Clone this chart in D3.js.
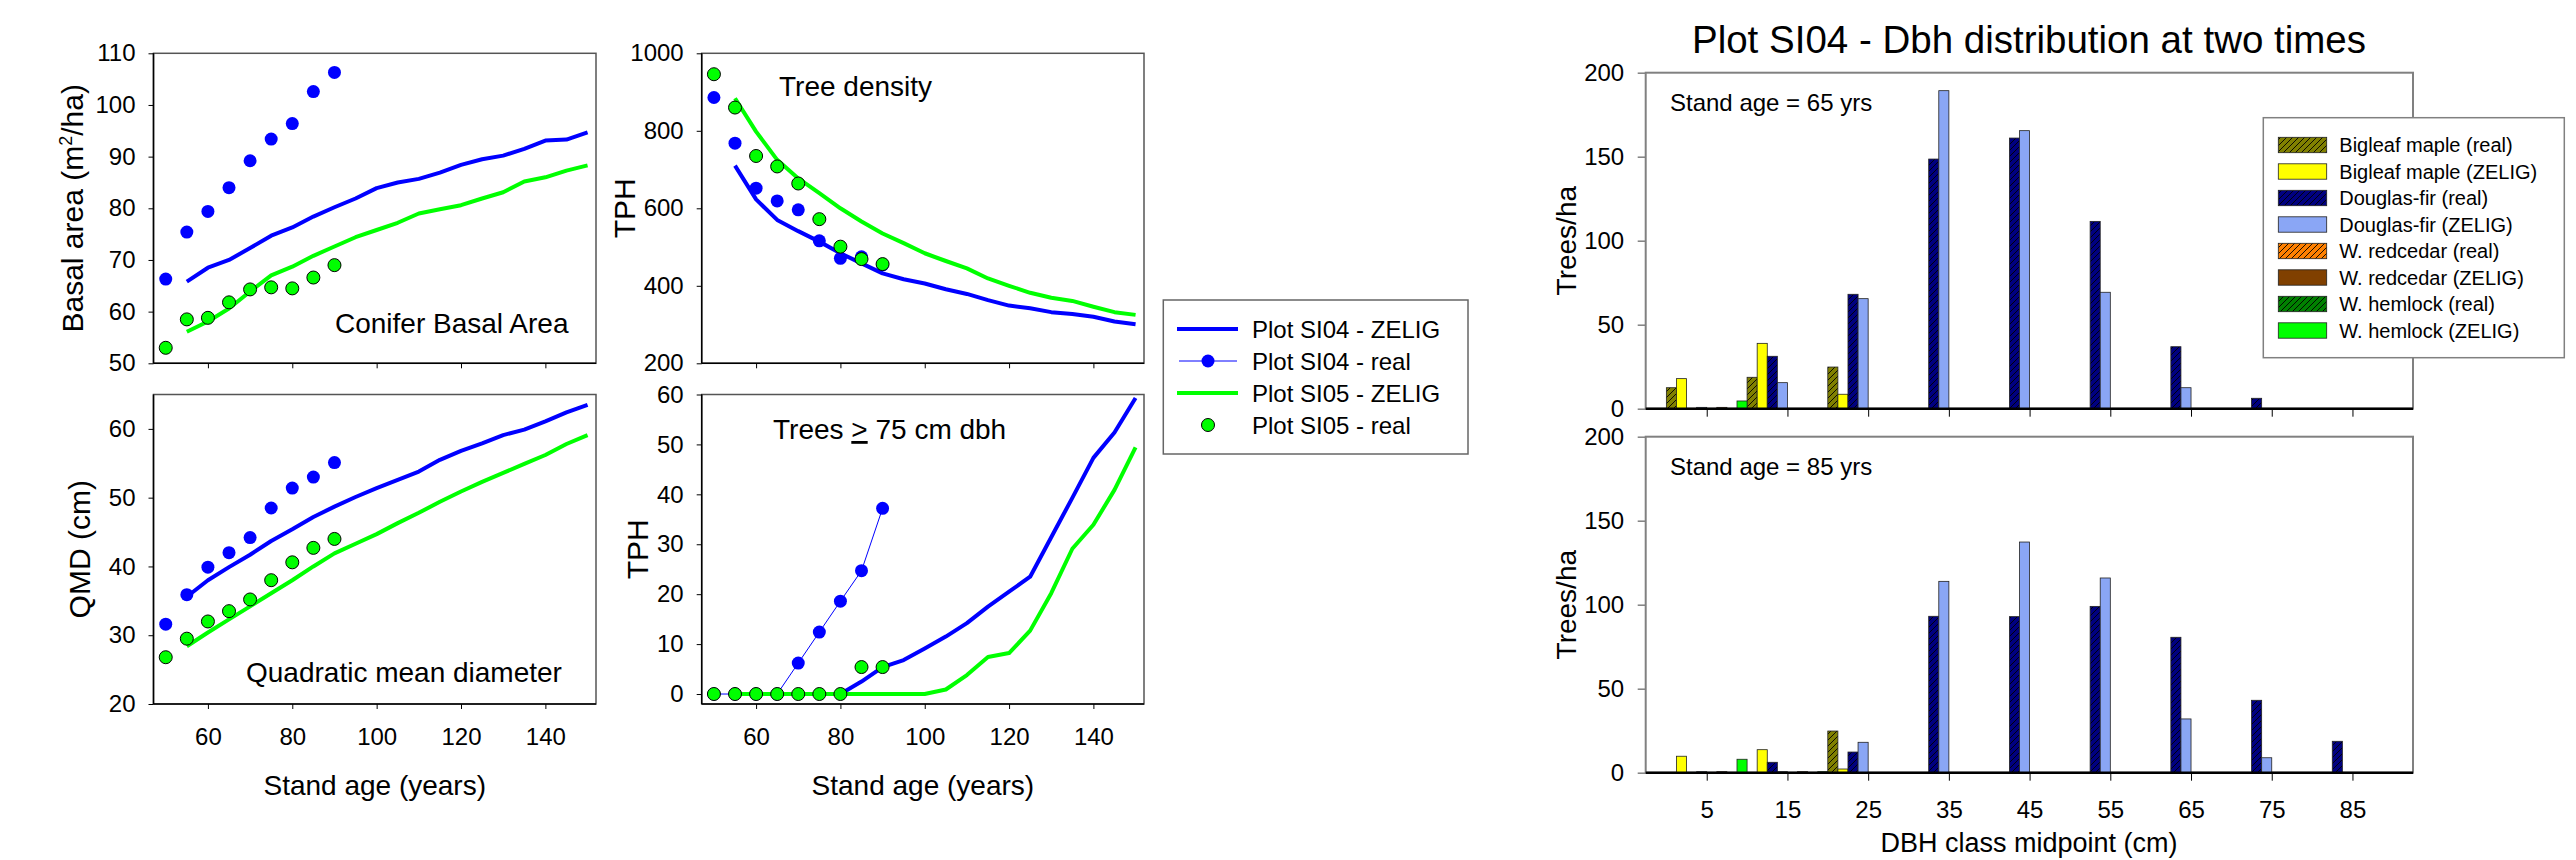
<!DOCTYPE html>
<html><head><meta charset="utf-8">
<script src="https://cdn.jsdelivr.net/npm/d3@7"></script>
<style>
body{margin:0;background:#fff;}
</style></head><body>
<svg id="c" width="2576" height="860" xmlns="http://www.w3.org/2000/svg"></svg>
<script>
// ---------------- DATA ----------------
const agesReal  = [50,55,60,65,70,75,80,85,90];
const agesZelig = [55,60,65,70,75,80,85,90,95,100,105,110,115,120,125,130,135,140,145,150];
const ageTicks  = [60,80,100,120,140];

// Conifer basal area (m2/ha)
const baSI04Zelig = [65.8,68.5,70.0,72.3,74.7,76.3,78.4,80.2,81.9,83.9,85.0,85.7,86.9,88.4,89.5,90.2,91.5,93.1,93.3,94.7];
const baSI04Real  = [66.3,75.4,79.4,84.0,89.2,93.4,96.4,102.6,106.3];
const baSI05Zelig = [56.1,58.1,60.6,63.9,67.0,68.7,70.8,72.6,74.4,75.8,77.2,79.0,79.8,80.6,81.9,83.1,85.2,86.0,87.3,88.3];
const baSI05Real  = [53.0,58.5,58.8,61.8,64.3,64.7,64.5,66.6,69.0];
const baTicks = [50,60,70,80,90,100,110];

// Tree density (TPH)
const tphSI04Zelig = [710,623,570,541,514,484,458,432,417,406,391,379,363,349,342,332,327,320,308,301];
const tphSI04Real  = [886,768,652,619,596,516,471,475,454];
const tphSI05Zelig = [884,798,725,677,639,600,566,535,510,484,464,445,419,400,382,369,361,346,332,325];
const tphSI05Real  = [946,860,735,708,664,572,501,469,456];
const tphTicks = [200,400,600,800,1000];

// Quadratic mean diameter (cm)
const qmdSI04Zelig = [35.6,38.0,39.9,41.7,43.7,45.4,47.2,48.7,50.1,51.4,52.6,53.8,55.5,56.8,57.9,59.1,59.9,61.1,62.4,63.5];
const qmdSI04Real  = [31.6,35.9,39.9,42.0,44.2,48.5,51.4,53.0,55.1];
const qmdSI05Zelig = [28.4,30.4,32.3,34.2,36.1,38.0,40.0,41.9,43.3,44.7,46.3,47.8,49.4,50.9,52.3,53.6,54.9,56.2,57.8,59.1];
const qmdSI05Real  = [26.8,29.5,32.0,33.5,35.2,38.0,40.6,42.7,44.0];
const qmdTicks = [20,30,40,50,60];

// Trees >= 75 cm dbh (TPH)
const bigSI04Zelig = [0,0,0,0,0,0,2.5,5.4,6.8,9.1,11.5,14.2,17.5,20.5,23.5,31.4,39.3,47.3,52.4,59.3];
const bigSI04Real  = [0,0,0,0,6.2,12.4,18.6,24.7,37.2];
const bigSI05Zelig = [0,0,0,0,0,0,0,0,0,0,0.9,3.8,7.4,8.2,12.7,20.2,29.1,33.9,40.9,49.4];
const bigSI05Real  = [0,0,0,0,0,0,0,5.4,5.4];
const bigTicks = [0,10,20,30,40,50,60];

const lineLegend = ["Plot SI04 - ZELIG","Plot SI04 - real","Plot SI05 - ZELIG","Plot SI05 - real"];

// DBH distribution (trees/ha) by class midpoint
const dbhClasses = [5,15,25,35,45,55,65,75,85];
const speciesNames = ["Bigleaf maple (real)","Bigleaf maple (ZELIG)","Douglas-fir (real)","Douglas-fir (ZELIG)","W. redcedar (real)","W. redcedar (ZELIG)","W. hemlock (real)","W. hemlock (ZELIG)"];
// Stand age = 65 yrs
const bmReal65  = [12.5,18.7,24.8,0,0,0,0,0,0];
const bmZelig65 = [17.9,38.9,8.6,0,0,0,0,0,0];
const dfReal65  = [0,31.2,68.1,148.6,161.1,111.5,36.9,6.2,0];
const dfZelig65 = [0.8,15.5,65.5,189.3,165.5,69.3,12.5,0,0];
const rcReal65  = [0,0,0,0,0,0,0,0,0];
const rcZelig65 = [0.8,0,0,0,0,0,0,0,0];
const whReal65  = [0,0,0,0,0,0,0,0,0];
const whZelig65 = [4.6,0,0,0,0,0,0,0,0];
// Stand age = 85 yrs
const bmReal85  = [0,0,24.8,0,0,0,0,0,0];
const bmZelig85 = [9.8,13.7,2.2,0,0,0,0,0,0];
const dfReal85  = [0,6.2,12.3,93.1,92.9,99.0,80.6,43.1,18.7];
const dfZelig85 = [0.6,0.6,18.1,113.9,137.3,115.9,32.0,8.9,0];
const rcReal85  = [0,0,0,0,0,0,0,0,0];
const rcZelig85 = [0.6,0.6,0,0,0,0,0,0,0];
const whReal85  = [0,0,0,0,0,0,0,0,0];
const whZelig85 = [8.0,0.6,0,0,0,0,0,0,0];
const barTicks = [0,50,100,150,200];

// ---------------- STYLE ----------------
const F = '"Liberation Sans", Arial, Helvetica, sans-serif';
const BLUE = "#0000ff", GREEN = "#00ff00";
const speciesColors = ["#808000","#ffff00","#000080","#8aa6f5","#ff8000","#804000","#008000","#00ff00"];
const speciesHatched = [true,false,true,false,true,false,true,false];

const svg = d3.select("#c");
svg.append("rect").attr("width",2576).attr("height",860).attr("fill","#fff");
const defs = svg.append("defs");
speciesColors.forEach((c,i)=>{
  if(!speciesHatched[i]) return;
  const p = defs.append("pattern").attr("id","hatch"+i).attr("patternUnits","userSpaceOnUse")
    .attr("width",6).attr("height",6);
  p.append("rect").attr("width",6).attr("height",6).attr("fill",c);
  p.append("path").attr("d","M-1,1 L1,-1 M0,6 L6,0 M5,7 L7,5").attr("stroke","#000").attr("stroke-width",0.9);
});
const fillOf = i => speciesHatched[i] ? `url(#hatch${i})` : speciesColors[i];

function styleAxis(g, fs){
  g.attr("font-family",F).attr("font-size",fs);
  g.select(".domain").remove();
  g.selectAll("text").attr("fill","#000");
  g.selectAll("line").attr("stroke","#000");
}

// ---------------- LINE PANELS ----------------
function linePanel(o){
  const x = d3.scaleLinear().domain([47.1,152]).range([o.x0,o.x1]);
  const y = d3.scaleLinear().domain(o.dom).range([o.y1,o.y0]);
  const g = svg.append("g");
  const ln = d3.line().x((d,i)=>x(agesZelig[i])).y(d=>y(d));
  const lr = d3.line().x((d,i)=>x(agesReal[i])).y(d=>y(d));
  g.append("path").attr("d",ln(o.z4)).attr("fill","none").attr("stroke",BLUE).attr("stroke-width",4).attr("stroke-linejoin","round");
  if(o.realLine) g.append("path").attr("d",lr(o.r4)).attr("fill","none").attr("stroke",BLUE).attr("stroke-width",1);
  g.selectAll(".r4").data(o.r4).enter().append("circle")
    .attr("cx",(d,i)=>x(agesReal[i])).attr("cy",d=>y(d)).attr("r",6.5).attr("fill",BLUE);
  g.append("path").attr("d",ln(o.z5)).attr("fill","none").attr("stroke",GREEN).attr("stroke-width",4).attr("stroke-linejoin","round");
  g.selectAll(".r5").data(o.r5).enter().append("circle")
    .attr("cx",(d,i)=>x(agesReal[i])).attr("cy",d=>y(d)).attr("r",6.5).attr("fill",GREEN).attr("stroke","#000").attr("stroke-width",1);
  g.append("rect").attr("x",o.x0).attr("y",o.y0).attr("width",o.x1-o.x0).attr("height",o.y1-o.y0)
    .attr("fill","none").attr("stroke","#555").attr("stroke-width",1.5);
  g.append("line").attr("x1",o.x0).attr("x2",o.x0).attr("y1",o.y0).attr("y2",o.y1).attr("stroke","#000").attr("stroke-width",1.5);
  g.append("line").attr("x1",o.x0).attr("x2",o.x1).attr("y1",o.y1).attr("y2",o.y1).attr("stroke","#000").attr("stroke-width",1.5);
  const ya = g.append("g").attr("transform",`translate(${o.x0},0)`)
    .call(d3.axisLeft(y).tickValues(o.ticks).tickSize(5).tickPadding(13).tickFormat(d3.format("d")));
  styleAxis(ya,24);
  const xa = g.append("g").attr("transform",`translate(0,${o.y1})`)
    .call(d3.axisBottom(x).tickValues(ageTicks).tickSize(5).tickPadding(19).tickFormat(o.xLabels? d3.format("d") : ()=>""));
  styleAxis(xa,24);
  const yl = g.append("text").attr("transform",`translate(${o.ylx},${(o.y0+o.y1)/2}) rotate(-90)`)
    .attr("text-anchor","middle").attr("font-family",F).attr("font-size",30);
  o.yLabel(yl);
  const t = g.append("text").attr("x",o.tx).attr("y",o.ty).attr("font-family",F).attr("font-size",28);
  o.title(t);
  if(o.xLabels){
    g.append("text").attr("x",(o.x0+o.x1)/2).attr("y",795).attr("text-anchor","middle")
      .attr("font-family",F).attr("font-size",28).text("Stand age (years)");
  }
}

linePanel({x0:153.5,x1:596,y0:53.3,y1:363.3,dom:[50,110],ticks:baTicks,xLabels:false,
  z4:baSI04Zelig,r4:baSI04Real,z5:baSI05Zelig,r5:baSI05Real,ylx:83,
  yLabel:t=>{t.append("tspan").text("Basal area (m");t.append("tspan").attr("dy",-11).attr("font-size",18).text("2");t.append("tspan").attr("dy",11).text("/ha)");},
  tx:335,ty:333,title:t=>t.text("Conifer Basal Area")});
linePanel({x0:701.7,x1:1144,y0:53.3,y1:363.3,dom:[200,1000],ticks:tphTicks,xLabels:false,
  z4:tphSI04Zelig,r4:tphSI04Real,z5:tphSI05Zelig,r5:tphSI05Real,ylx:635,
  yLabel:t=>t.text("TPH"),tx:779,ty:96,title:t=>t.text("Tree density")});
linePanel({x0:153.5,x1:596,y0:394.5,y1:704,dom:[20,65],ticks:qmdTicks,xLabels:true,
  z4:qmdSI04Zelig,r4:qmdSI04Real,z5:qmdSI05Zelig,r5:qmdSI05Real,ylx:90,
  yLabel:t=>t.text("QMD (cm)"),tx:246,ty:682,title:t=>t.text("Quadratic mean diameter")});
linePanel({x0:701.7,x1:1144,y0:394.5,y1:704,dom:[-2,60],ticks:bigTicks,xLabels:true,realLine:true,
  z4:bigSI04Zelig,r4:bigSI04Real,z5:bigSI05Zelig,r5:bigSI05Real,ylx:648,
  yLabel:t=>t.text("TPH"),tx:773,ty:439,
  title:t=>{t.append("tspan").text("Trees ");t.append("tspan").attr("text-decoration","underline").text(">");t.append("tspan").text(" 75 cm dbh");}});

// line legend
(function(){
  const g = svg.append("g");
  g.append("rect").attr("x",1163.3).attr("y",300).attr("width",304.7).attr("height",154)
    .attr("fill","#fff").attr("stroke","#666").attr("stroke-width",1.5);
  const rows = [329,361,393,425];
  lineLegend.forEach((name,i)=>{
    const y = rows[i], col = i<2?BLUE:GREEN;
    if(i%2===0){
      g.append("line").attr("x1",1177).attr("x2",1238).attr("y1",y).attr("y2",y).attr("stroke",col).attr("stroke-width",4);
    } else {
      if(i===1) g.append("line").attr("x1",1179).attr("x2",1237).attr("y1",y).attr("y2",y).attr("stroke",col).attr("stroke-width",1);
      g.append("circle").attr("cx",1208).attr("cy",y).attr("r",6.5).attr("fill",col)
        .attr("stroke",i===3?"#000":"none").attr("stroke-width",1);
    }
    g.append("text").attr("x",1252).attr("y",y+8.5).attr("font-family",F).attr("font-size",24).text(name);
  });
})();

// ---------------- BAR PANELS ----------------
const xb = d3.scaleLinear().domain([-2.56,92.5]).range([1645.7,2413]);
const bw = (xb(10)-xb(0))/8;
function barPanel(o){
  const y = d3.scaleLinear().domain([0,200]).range([o.y1,o.y0]);
  const g = svg.append("g");
  g.append("rect").attr("x",1645.7).attr("y",o.y0).attr("width",2413-1645.7).attr("height",o.y1-o.y0)
    .attr("fill","none").attr("stroke","#808080").attr("stroke-width",2);
  o.series.forEach((vals,i)=>{
    g.selectAll(null).data(vals.map((v,j)=>({v,c:dbhClasses[j]})).filter(d=>d.v>0)).enter().append("rect")
      .attr("x",d=>xb(d.c)+(i-4)*bw).attr("y",d=>y(d.v)).attr("width",bw).attr("height",d=>y(0)-y(d.v))
      .attr("fill",fillOf(i)).attr("stroke","#222").attr("stroke-width",0.8);
  });
  const ya = g.append("g").attr("transform","translate(1645.7,0)")
    .call(d3.axisLeft(y).tickValues(barTicks).tickSize(8).tickPadding(13.5));
  styleAxis(ya,24); ya.selectAll("line").attr("stroke","#808080").attr("stroke-width",1.5);
  const xa = g.append("g").attr("transform",`translate(0,${o.y1})`)
    .call(d3.axisBottom(xb).tickValues(dbhClasses).tickSize(8).tickPadding(20).tickFormat(o.xLabels?d3.format("d"):()=>""));
  styleAxis(xa,24);
  g.append("line").attr("x1",1645.7).attr("x2",2413).attr("y1",o.y1).attr("y2",o.y1).attr("stroke","#000").attr("stroke-width",2.5);
  g.append("text").attr("x",1670).attr("y",o.y0+38.5).attr("font-family",F).attr("font-size",24).text(o.label);
  g.append("text").attr("transform",`translate(1576,${(o.y0+o.y1)/2}) rotate(-90)`).attr("text-anchor","middle")
    .attr("font-family",F).attr("font-size",28).text("Trees/ha");
}
barPanel({y0:72.7,y1:408.7,label:"Stand age = 65 yrs",xLabels:false,
  series:[bmReal65,bmZelig65,dfReal65,dfZelig65,rcReal65,rcZelig65,whReal65,whZelig65]});
barPanel({y0:436.7,y1:772.7,label:"Stand age = 85 yrs",xLabels:true,
  series:[bmReal85,bmZelig85,dfReal85,dfZelig85,rcReal85,rcZelig85,whReal85,whZelig85]});

svg.append("text").attr("x",2029).attr("y",851.5).attr("text-anchor","middle").attr("font-family",F)
  .attr("font-size",27).text("DBH class midpoint (cm)");
svg.append("text").attr("x",2029).attr("y",53).attr("text-anchor","middle").attr("font-family",F)
  .attr("font-size",38.5).text("Plot SI04 - Dbh distribution at two times");

// bar legend
(function(){
  const g = svg.append("g");
  g.append("rect").attr("x",2263.3).attr("y",117.7).attr("width",301).attr("height",240)
    .attr("fill","#fff").attr("stroke","#808080").attr("stroke-width",1.5);
  speciesNames.forEach((n,i)=>{
    const cy = 145 + i*26.5;
    g.append("rect").attr("x",2278.3).attr("y",cy-7.7).attr("width",48.4).attr("height",15.4)
      .attr("fill",fillOf(i)).attr("stroke","#222").attr("stroke-width",0.8);
    g.append("text").attr("x",2339.3).attr("y",cy+7).attr("font-family",F).attr("font-size",20).text(n);
  });
})();
</script>
</body></html>
